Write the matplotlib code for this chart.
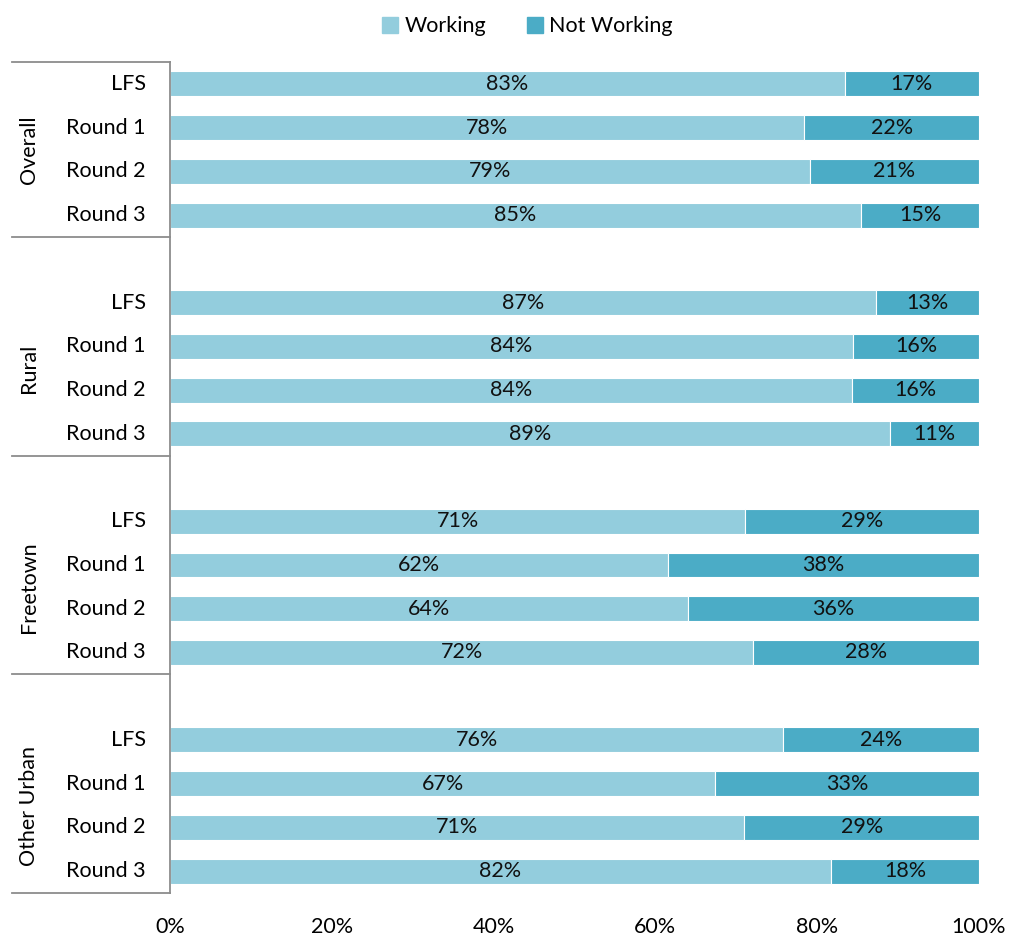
import matplotlib.pyplot as plt
import matplotlib.transforms as mtransforms
from matplotlib.patches import Patch

plt.rcParams['font.family'] = ['Lato', 'DejaVu Sans']

# =========================
# Data
# =========================
GROUPS = ["Overall", "Rural", "Freetown", "Other Urban"]
ROUNDS = ["LFS", "Round 1", "Round 2", "Round 3"]

# share working (%) per group, in ROUNDS order
working = {
    "Overall":     [83.4, 78.4, 79.1, 85.4],
    "Rural":       [87.3, 84.4, 84.3, 89.0],
    "Freetown":    [71.1, 61.6, 64.0, 72.1],
    "Other Urban": [75.8, 67.4, 71.0, 81.7],
}

C_WORK = "#93CDDD"
C_NOT = "#4BACC6"

fig = plt.figure(figsize=(10.1, 9.4), dpi=100)
ax = fig.add_axes([0.1683, 0.05, 0.8010, 0.884])

fs = 15.5
for g, grp in enumerate(GROUPS):
    for r, rnd in enumerate(ROUNDS):
        y = g * 5 + r
        w = working[grp][r]
        nw = 100 - w
        ax.barh(y, w, height=0.57, color=C_WORK, edgecolor="white", linewidth=0.8)
        ax.barh(y, nw, left=w, height=0.57, color=C_NOT, edgecolor="white", linewidth=0.8)
        ax.text(w / 2, y, f"{round(w)}%", ha="center", va="center", fontsize=fs, color="#111111")
        ax.text(w + nw / 2, y, f"{round(nw)}%", ha="center", va="center", fontsize=fs, color="#111111")

ax.set_xlim(0, 100)
ax.set_ylim(18.5, -0.5)
ax.set_xticks([0, 20, 40, 60, 80, 100])
ax.set_xticklabels([f"{v}%" for v in [0, 20, 40, 60, 80, 100]], fontsize=fs)
ax.tick_params(axis="x", length=0, pad=17)
ax.set_yticks([])
for s in ["top", "right", "bottom"]:
    ax.spines[s].set_visible(False)
ax.spines["left"].set_color("#8c8c8c")
ax.spines["left"].set_linewidth(1.3)

# category labels, group labels and separators on the left
trans = mtransforms.blended_transform_factory(ax.transAxes, ax.transData)
xl = -158 / 809
for g, grp in enumerate(GROUPS):
    for r, rnd in enumerate(ROUNDS):
        ax.text(-24 / 809, g * 5 + r, rnd, transform=trans, ha="right", va="center", fontsize=fs)
    ax.text(-141 / 809, g * 5 + 1.5, grp, transform=trans, ha="center", va="center",
            rotation=90, fontsize=fs)
for yb in [-0.5, 3.5, 8.5, 13.5, 18.5]:
    ax.plot([xl, 0], [yb, yb], transform=trans, color="#8c8c8c", lw=1.3, clip_on=False)

handles = [Patch(color=C_WORK, label="Working"), Patch(color=C_NOT, label="Not Working")]
fig.legend(handles=handles, loc="center", bbox_to_anchor=(0.522, 0.972), ncol=2,
           frameon=False, fontsize=fs, handlelength=0.75, handleheight=0.75,
           handletextpad=0.3, columnspacing=1.9)

fig.savefig("out.png", dpi=100)
